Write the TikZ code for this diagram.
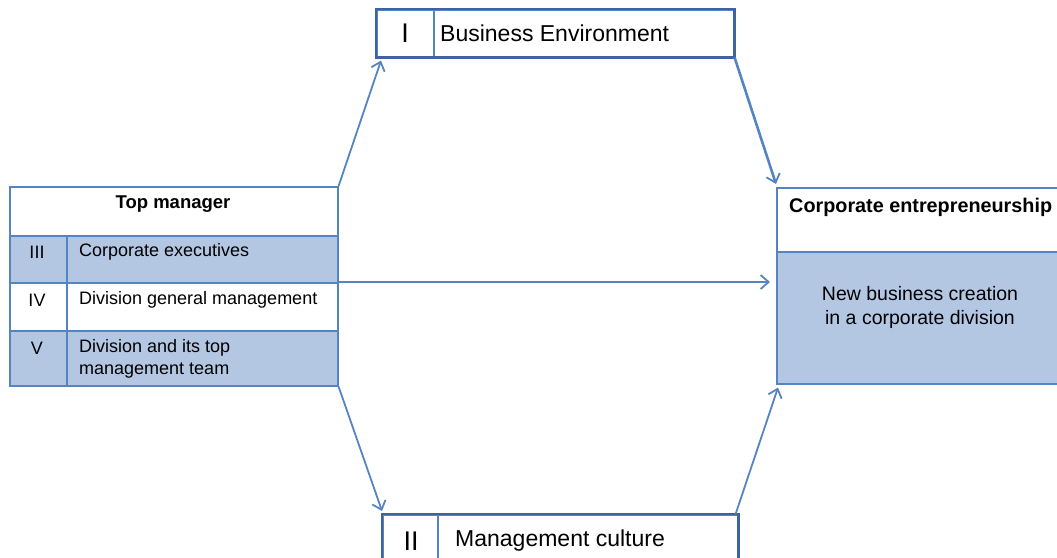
\documentclass[tikz,border=0pt]{standalone}
\usepackage{fontspec}
\setmainfont{Liberation Sans}
\usetikzlibrary{arrows.meta}
\definecolor{cellblue}{HTML}{B3C7E3}
\definecolor{lineblue}{HTML}{5584C2}
\definecolor{darkline}{HTML}{3D64A0}
\tikzset{
  cell/.style={draw=lineblue, line width=1.6pt, anchor=north west, inner sep=0pt},
  smalltxt/.style={font=\fontsize{18}{22}\selectfont, inner sep=0pt},
  midtxt/.style={font=\fontsize{19.5}{24}\selectfont, inner sep=0pt, align=center},
  bigtxt/.style={font=\fontsize{23}{27}\selectfont, inner sep=0pt},
  numtxt/.style={font=\fontsize{27}{30}\selectfont, inner sep=0pt},
  arr/.style={draw=lineblue, line width=1.8pt, -{Straight Barb[length=8pt,width=14pt,line width=1.8pt]}}
}
\begin{document}
\begin{tikzpicture}[x=1pt,y=-1pt]
\clip (0,0) rectangle (1057,557);
% Left table
\node[cell, minimum width=328pt, minimum height=49pt] (topmgr) at (9,186) {};
\node[cell, fill=cellblue, minimum width=57pt, minimum height=47pt] (numIII) at (9,235) {};
\node[cell, fill=cellblue, minimum width=271pt, minimum height=47pt] (rowIII) at (66,235) {};
\node[cell, minimum width=57pt, minimum height=48pt] (numIV) at (9,282) {};
\node[cell, minimum width=271pt, minimum height=48pt] (rowIV) at (66,282) {};
\node[cell, fill=cellblue, minimum width=57pt, minimum height=55pt] (numV) at (9,330) {};
\node[cell, fill=cellblue, minimum width=271pt, minimum height=55pt] (rowV) at (66,330) {};
\node[smalltxt, font=\fontsize{18.5}{22}\selectfont\bfseries] (topmgrtxt) at (173,204) {Top manager};
\node[smalltxt] (numIIItxt) at (37,252) {III};
\node[smalltxt, anchor=west] (rowIIItxt) at (79,252) {Corporate executives};
\node[smalltxt] (numIVtxt) at (37,300) {IV};
\node[smalltxt, anchor=west] (rowIVtxt) at (79,300) {Division general management};
\node[smalltxt] (numVtxt) at (37,348) {V};
\node[smalltxt, anchor=west, align=left] (rowVtxt) at (79,359) {Division and its top\\management team};
% Business environment
\node[cell, minimum width=57pt, minimum height=47pt] (busnum) at (376,9) {};
\node[cell, minimum width=300pt, minimum height=47pt] (busenv) at (433,9) {};
\draw[darkline, line width=2.6pt] (busnum.north west) rectangle (busenv.south east);
\node[numtxt] (busnumtxt) at (405,33) {I};
\node[bigtxt, anchor=west] (busenvtxt) at (440,33) {Business Environment};
% Management culture
\node[cell, minimum width=55pt, minimum height=80pt] (mgmtnum) at (382,514) {};
\node[cell, minimum width=300pt, minimum height=80pt] (mgmt) at (437,514) {};
\draw[darkline, line width=2.6pt] (mgmtnum.north west) rectangle (mgmt.south east);
\node[numtxt] (mgmtnumtxt) at (411,541) {II};
\node[bigtxt, anchor=west] (mgmttxt) at (455,541) {Management culture};
% Corporate entrepreneurship
\node[cell, minimum width=300pt, minimum height=64pt] (corphead) at (776,187) {};
\node[cell, fill=cellblue, minimum width=300pt, minimum height=132pt] (corpbody) at (776,251) {};
\node[smalltxt, font=\fontsize{19.8}{22}\selectfont\bfseries, anchor=west] (corpheadtxt) at (789,207) {Corporate entrepreneurship};
\node[midtxt] (corpbodytxt) at (920,307) {New business creation\\in a corporate division};
% Arrows
\draw[arr] (topmgr.north east) -- ([xshift=5pt,yshift=-3pt]busnum.south west);
\draw[arr, line width=2.6pt] (busenv.south east) -- ([yshift=3pt]corphead.north west);
\draw[arr, shorten >=6pt] (rowIV.north east) -- (rowIV.north east -| corpbody.west);
\draw[arr] (rowV.south east) -- ([yshift=3pt]mgmtnum.north west);
\draw[arr] ([xshift=-3pt]mgmt.north east) -- ([xshift=2pt,yshift=-3pt]corpbody.south west);
\end{tikzpicture}
\end{document}
